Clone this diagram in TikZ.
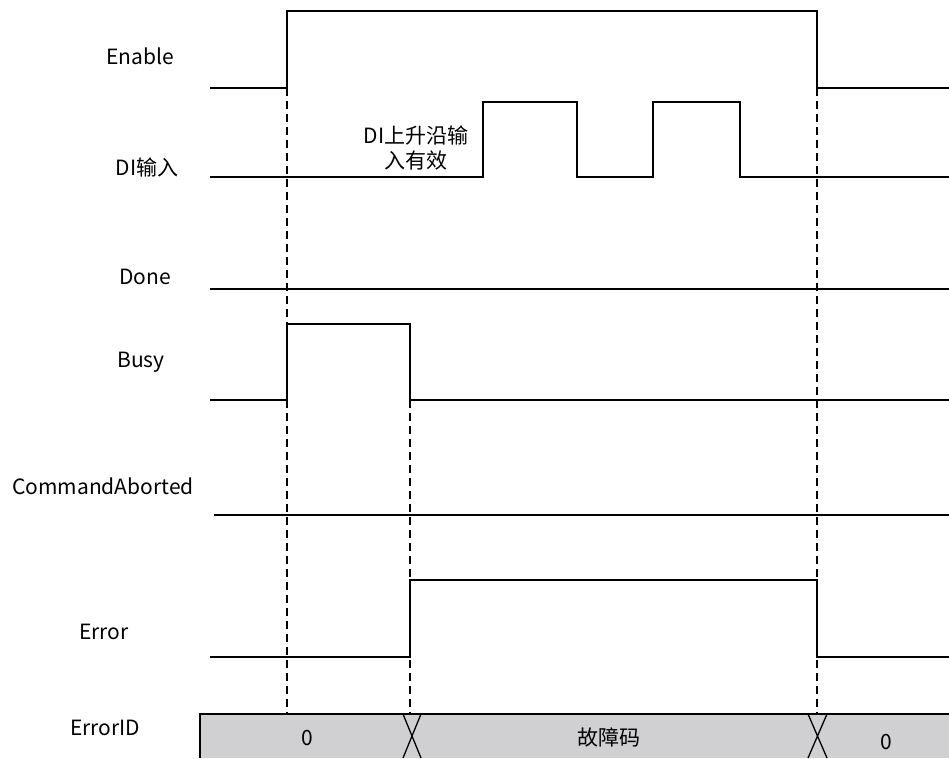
\documentclass[tikz,border=0pt]{standalone}
\usepackage{fontspec}
\setmainfont{Noto Sans CJK SC}
\begin{document}
\begin{tikzpicture}[x=1pt,y=-1pt,
  sig/.style={line width=2pt,line join=miter},
  guide/.style={line width=1.5pt,dash pattern=on 8pt off 5pt},
  lbl/.style={font=\fontsize{21}{25}\selectfont,inner sep=0pt,anchor=base},
  xline/.style={line width=1.3pt}]
\useasboundingbox (0,0) rectangle (949,758);
% labels
\node[lbl] (lEnable) at (140,64) {Enable};
\node[lbl] (lDI) at (147,175) {DI输入};
\node[lbl] (lDone) at (145,284) {Done};
\node[lbl] (lBusy) at (141,367) {Busy};
\node[lbl] (lCA) at (103,494) {CommandAborted};
\node[lbl] (lErr) at (104,639) {Error};
\node[lbl] (lEID) at (105,735) {ErrorID};
% ErrorID bar
\fill[fill={rgb,255:red,208;green,208;blue,210}] (200,714) rectangle (949,758);
\draw[line width=1.5pt] (200,758) -- (200,714) -- (949,714);
\draw[xline] (403,714) -- (421,758) (421,714) -- (403,758);
\draw[xline] (808,714) -- (827,758) (827,714) -- (808,758);
\node[lbl] (v0a) at (307,745) {0};
\node[lbl] (vcode) at (609,745) {故障码};
\node[lbl] (v0b) at (886,749) {0};
% dashed guides
\coordinate (g1t) at (287,88); \coordinate (g1b) at (287,714);
\coordinate (g2t) at (410,400); \coordinate (g2b) at (410,714);
\coordinate (g3t) at (817,88); \coordinate (g3b) at (817,714);
\draw[guide] (g1t) -- (g1b);
\draw[guide] (g2t) -- (g2b);
\draw[guide] (g3t) -- (g3b);
% signals
\draw[sig] (210,88) -- (287,88) -- (287,11) -- (817,11) -- (817,88) -- (949,88);
\draw[sig] (210,177) -- (483,177) -- (483,102) -- (577,102) -- (577,177) -- (653,177) -- (653,102) -- (740,102) -- (740,177) -- (949,177);
\draw[sig] (210,289) -- (949,289);
\draw[sig] (210,400) -- (287,400) -- (287,324) -- (410,324) -- (410,400) -- (949,400);
\draw[sig] (214,515) -- (949,515);
\draw[sig] (210,657) -- (410,657) -- (410,580) -- (817,580) -- (817,657) -- (949,657);
% DI annotation
\node[lbl,anchor=center,align=center,fill=white,inner sep=1pt] (note) at (416,148) {DI上升沿输\\入有效};
\end{tikzpicture}
\end{document}
